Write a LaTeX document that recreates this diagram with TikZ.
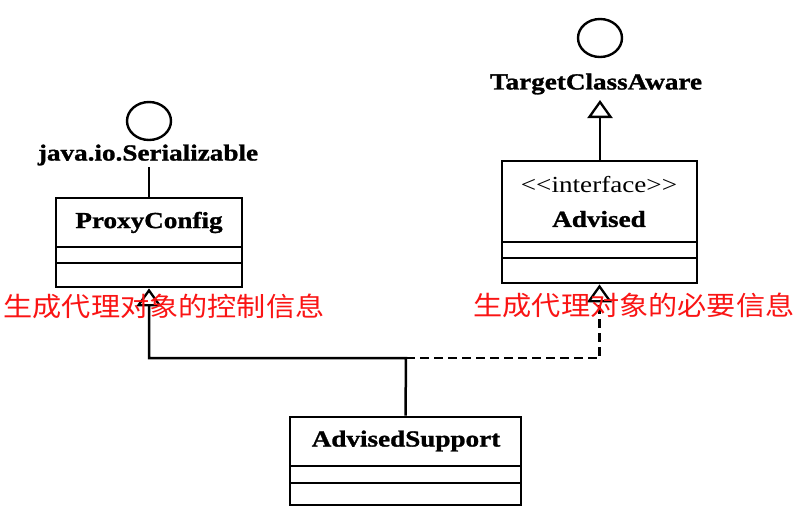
\documentclass[tikz,border=0pt]{standalone}
\usepackage{fontspec}
\usetikzlibrary{arrows.meta,shapes.geometric}
\newfontfamily\umlfont[FakeStretch=1.18,BoldFeatures={FakeBold=1.2}]{Liberation Serif}
\newfontfamily\cjkfont[FakeStretch=1.1]{Noto Sans CJK SC}
\definecolor{notered}{RGB}{250,20,20}
\tikzset{
  umlline/.style={line width=2.5pt, black},
  comprule/.style={line width=2.4pt, black},
  classbox/.style={draw, line width=2.8pt, inner sep=0pt, fill=white},
  lolli/.style={draw, line width=2.4pt, ellipse, inner sep=0pt, minimum width=44pt, minimum height=38pt},
  classname/.style={font=\umlfont\bfseries\fontsize{23}{27}\selectfont, inner sep=0pt},
  stereo/.style={font=\umlfont\fontsize{23}{27}\selectfont, inner sep=0pt},
  notetext/.style={font=\cjkfont\fontsize{26.5}{31}\selectfont, text=notered, inner sep=0pt},
  gen/.style={-{Triangle[open,length=18pt,width=25pt,line width=2.3pt]}},
  realdash/.style={dash pattern=on 9pt off 5pt}
}
\begin{document}
\begin{tikzpicture}[x=1pt,y=-1pt]
\useasboundingbox[fill=white] (0,0) rectangle (806,517);

% ---- java.io.Serializable lollipop ----
\node[lolli] (serc) at (149,121) {};
\node[classname] (sert) at (148,155) {java.io.Serializable};

% ---- ProxyConfig ----
\node[classbox, minimum width=186pt, minimum height=89pt] (pc) at (149,242.5) {};
\node[classname] (pcname) at (149,222.5) {ProxyConfig};
\draw[comprule] (56,247) -- (242,247);
\draw[comprule] (56,263) -- (242,263);
\coordinate (serbot) at (149,167);
\draw[umlline] (serbot) -- (pc.north);

% ---- TargetClassAware lollipop ----
\node[lolli] (tcac) at (600,38) {};
\node[classname] (tcat) at (596,84) {TargetClassAware};

% ---- Advised ----
\node[classbox, minimum width=195pt, minimum height=122pt] (adv) at (599.5,222) {};
\node[stereo] (advst) at (599,185) {<<interface>>};
\node[classname] (advname) at (599,219) {Advised};
\draw[comprule] (502,242) -- (697,242);
\draw[comprule] (502,258) -- (697,258);
\coordinate (tcabot) at (600,100);
\draw[umlline, gen] (adv.north -| tcabot) -- (tcabot);

% ---- AdvisedSupport ----
\node[classbox, minimum width=231pt, minimum height=88pt] (as) at (405.5,461) {};
\node[classname] (asname) at (406,441) {AdvisedSupport};
\draw[comprule] (290,466) -- (521,466);
\draw[comprule] (290,483) -- (521,483);

% ---- connectors ----
\coordinate (j) at (406,358);
\draw[umlline, gen] (as.north) -- (j) -| (pc.south);
\draw[umlline, realdash, gen] (j) -| (adv.south);

% ---- red notes ----
\node[notetext] (note1) at (164,306) {生成代理对象的控制信息};
\node[notetext] (note2) at (634,305) {生成代理对象的必要信息};
\end{tikzpicture}
\end{document}
